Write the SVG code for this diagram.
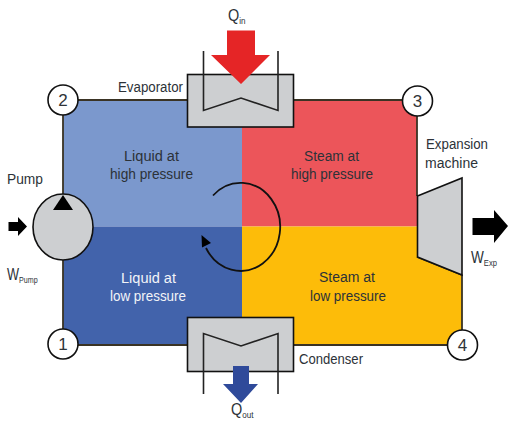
<svg xmlns="http://www.w3.org/2000/svg" width="512" height="428" viewBox="0 0 512 428">
<style>
.t{font-family:"Liberation Sans","Arial",sans-serif;font-size:15.500px;fill:#2c3238}
.b{font-size:17px}
.w{fill:#f2f4f8}
.s{font-size:9.500px}
.e{stroke:#111;stroke-width:1.600;fill:#cdcfd1}
.c{fill:#fff;stroke:#111;stroke-width:1.600}
.l{fill:none;stroke:#222;stroke-width:1.600}
.n{font-family:"Liberation Sans",Arial,sans-serif;font-size:17px;fill:#2f3438;text-anchor:middle}
</style>
<rect width="512" height="428" fill="#fff"/>
<g id="regions">
<rect x="63" y="100" width="179" height="126.500" fill="#7b98cd"/>
<rect x="242" y="100" width="175" height="126.500" fill="#ec555a"/>
<rect x="63" y="226.500" width="179" height="118" fill="#4263ab"/>
<path d="M242 226.500H417V257L462 275V345H242Z" fill="#fdbc09"/>
</g>
<g id="connectors">
<path d="M63 100H417V196M417 257L462 275V345H63V100" fill="none" stroke="#3a3324" stroke-width="1.800"/>
<path d="M213 195.500A39.500 44 0 1 1 206 248" fill="none" stroke="#111" stroke-width="1.800"/>
<path d="M201.500 235L202 247.500L211 243Z" fill="#000"/>
</g>
<g id="evaporator">
<rect class="e" x="187.500" y="74.500" width="106" height="52.500"/>
<path class="l" d="M203.500 51V110.500L241 98L278 110.500V51"/>
<path d="M227 30.500H255V55H270L241 84L211 55H227Z" fill="#e52526"/>
<text class="t" x="118" y="92" textLength="65" lengthAdjust="spacingAndGlyphs">Evaporator</text>
<text class="t b" transform="translate(228 21) scale(.85 1)">Q<tspan class="s" dy="3">in</tspan></text>
</g>
<g id="condenser">
<rect class="e" x="187.500" y="317.500" width="106" height="54"/>
<path class="l" d="M203.500 394V333.500L241 346L278 333.500V394"/>
<path d="M233 366H249V384H258L241 403L223 384H233Z" fill="#2f4a9a"/>
<text class="t" x="299" y="364" textLength="64" lengthAdjust="spacingAndGlyphs">Condenser</text>
<text class="t b" transform="translate(231 415) scale(.85 1)">Q<tspan class="s" dy="3">out</tspan></text>
</g>
<g id="pump">
<ellipse class="e" cx="63" cy="227" rx="30" ry="33"/>
<path d="M63 195L73 210H53Z" fill="#000"/>
<path d="M8.500 222H18V217L27 226.500L18 236V231H8.500Z" fill="#000"/>
<text class="t" x="7" y="184" textLength="36" lengthAdjust="spacingAndGlyphs">Pump</text>
<text class="t b" transform="translate(7 280) scale(.75 1)">W<tspan class="s" dy="3">Pump</tspan></text>
</g>
<g id="expansion">
<path class="e" d="M417.500 196L462 178V275L417.500 257Z"/>
<path d="M472.500 218H494V210L508 226L494 243V235H472.500Z" fill="#000"/>
<text class="t" x="426" y="149" textLength="62" lengthAdjust="spacingAndGlyphs">Expansion</text>
<text class="t" x="425" y="168" textLength="53" lengthAdjust="spacingAndGlyphs">machine</text>
<text class="t b" transform="translate(471 263) scale(.8 1)">W<tspan class="s" dy="3">Exp</tspan></text>
</g>
<g id="labels">
<text class="t" x="124" y="161" textLength="55" lengthAdjust="spacingAndGlyphs">Liquid at</text>
<text class="t" x="110" y="179" textLength="83" lengthAdjust="spacingAndGlyphs">high pressure</text>
<text class="t" x="304" y="161" textLength="55" lengthAdjust="spacingAndGlyphs">Steam at</text>
<text class="t" x="291" y="179" textLength="82" lengthAdjust="spacingAndGlyphs">high pressure</text>
<text class="t w" x="121" y="283" textLength="55" lengthAdjust="spacingAndGlyphs">Liquid at</text>
<text class="t w" x="110" y="301" textLength="76" lengthAdjust="spacingAndGlyphs">low pressure</text>
<text class="t" x="319" y="282" textLength="56" lengthAdjust="spacingAndGlyphs">Steam at</text>
<text class="t" x="310" y="301" textLength="76" lengthAdjust="spacingAndGlyphs">low pressure</text>
</g>
<g id="state-1"><circle class="c" cx="63" cy="344" r="15"/><text class="n" x="63" y="350">1</text></g>
<g id="state-2"><circle class="c" cx="63" cy="100" r="15"/><text class="n" x="63" y="106">2</text></g>
<g id="state-3"><circle class="c" cx="417.500" cy="101" r="15"/><text class="n" x="417.500" y="107">3</text></g>
<g id="state-4"><circle class="c" cx="462.500" cy="345" r="15"/><text class="n" x="462.500" y="351">4</text></g>
</svg>
